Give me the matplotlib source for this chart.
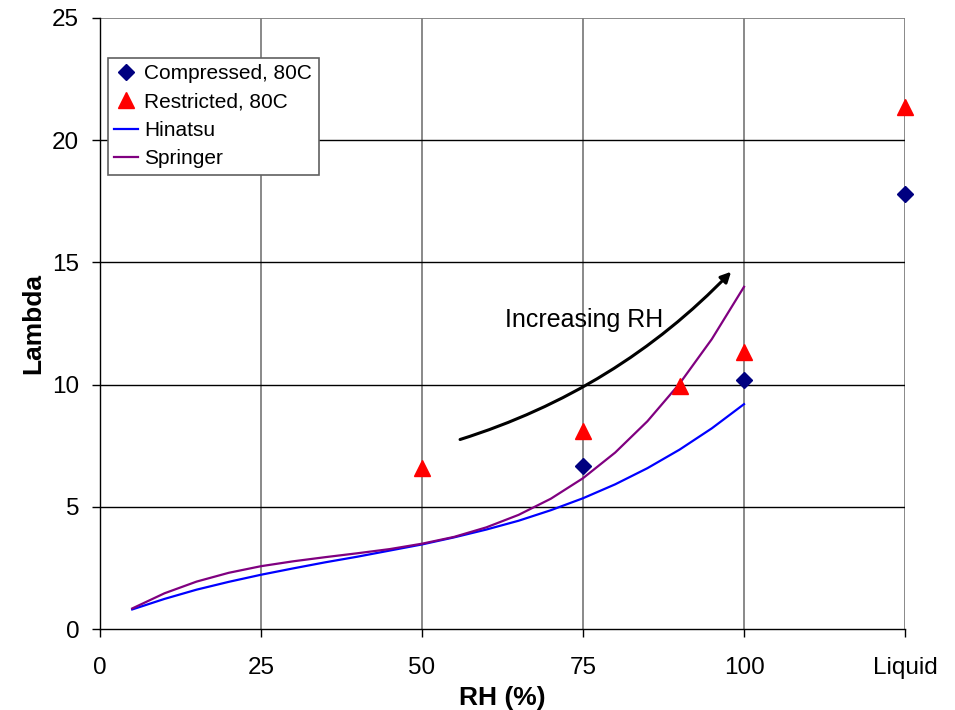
import numpy as np
import matplotlib
matplotlib.use('Agg')
from matplotlib import pyplot as plt
from matplotlib.patches import FancyArrowPatch

plt.rcParams['font.family'] = ['Liberation Sans', 'DejaVu Sans']

# measured points (x=125 stands for liquid water)
comp_x = [75, 100, 125]
comp_y = [6.65, 10.2, 17.8]
restr_x = [50, 75, 90, 100, 125]
restr_y = [6.6, 8.1, 9.95, 11.35, 21.35]

# model curves
rh = [5, 10, 15, 20, 25, 30, 35, 40, 45, 50, 55, 60, 65, 70, 75, 80, 85, 90, 95, 100]
hinatsu = [0.80, 1.23, 1.61, 1.93, 2.22, 2.48, 2.73, 2.96, 3.21, 3.46,
           3.75, 4.07, 4.43, 4.86, 5.35, 5.92, 6.58, 7.34, 8.21, 9.20]
springer = [0.84, 1.46, 1.94, 2.30, 2.57, 2.77, 2.94, 3.10, 3.27, 3.49,
            3.77, 4.16, 4.67, 5.33, 6.17, 7.22, 8.50, 10.04, 11.86, 14.00]

xticks = [0, 25, 50, 75, 100, 125]
xticklabels = ['0', '25', '50', '75', '100', 'Liquid']
yticks = [0, 5, 10, 15, 20, 25]

fig = plt.figure(figsize=(9.55, 7.1), dpi=100)
ax = fig.add_axes([100/955, 1-629/710, 805/955, 611/710])

# grid: vertical gray, horizontal black
for xv in xticks[1:]:
    ax.axvline(xv, color='#808080', lw=1.3, zorder=1)
for yv in yticks[1:-1]:
    ax.axhline(yv, color='black', lw=1.0, zorder=1)
ax.axhline(yticks[-1], color='#808080', lw=1.3, zorder=1)

ax.plot(rh, hinatsu, color='#0000ff', lw=1.6, label='Hinatsu', zorder=3)
ax.plot(rh, springer, color='#800080', lw=1.6, label='Springer', zorder=3)
ax.plot(comp_x, comp_y, ls='none', marker='D', color='#000080', ms=8,
        label='Compressed, 80C', zorder=4, clip_on=False)
ax.plot(restr_x, restr_y, ls='none', marker='^', color='#ff0000', ms=11.5,
        label='Restricted, 80C', zorder=4, clip_on=False)

arrow = FancyArrowPatch((55.5, 7.72), (98.3, 14.7),
                        connectionstyle='arc3,rad=0.13',
                        arrowstyle='-|>,head_length=6,head_width=3',
                        color='black', lw=2.2, zorder=5)
ax.add_patch(arrow)
ax.text(75.2, 12.65, 'Increasing RH', fontsize=18, ha='center', va='center')

ax.set_xlim(0, 125)
ax.set_ylim(0, 25)
ax.set_xticks(xticks)
ax.set_xticklabels(xticklabels)
ax.set_yticks(yticks)
ax.tick_params(axis='both', labelsize=17.5, length=6, width=1, direction='out', pad=14)
ax.tick_params(axis='y', pad=9)
for s in ['top', 'right']:
    ax.spines[s].set_visible(False)
for s in ['left', 'bottom']:
    ax.spines[s].set_color('black')
    ax.spines[s].set_linewidth(1.0)

ax.set_xlabel('RH (%)', fontsize=19, fontweight='bold', labelpad=5)
ax.set_ylabel('Lambda', fontsize=19, fontweight='bold', labelpad=5)

h, l = ax.get_legend_handles_labels()
order = [2, 3, 0, 1]
leg = ax.legend([h[i] for i in order], [l[i] for i in order],
                loc='upper left', bbox_to_anchor=(8/805, 1-40/611),
                fontsize=15, fancybox=False, framealpha=1, edgecolor='#606060',
                borderpad=0.3, labelspacing=0.45, handlelength=1.15,
                handletextpad=0.3, borderaxespad=0)
leg.get_frame().set_linewidth(1.2)
leg.set_zorder(6)

fig.savefig('out.png', dpi=100)
